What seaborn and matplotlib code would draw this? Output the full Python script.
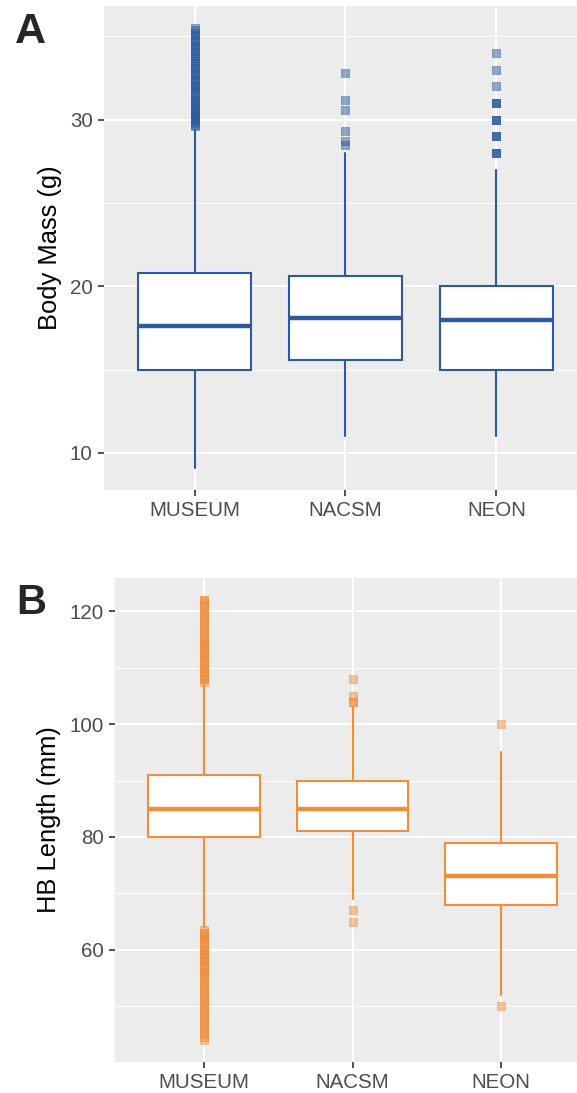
import matplotlib
matplotlib.use('Agg')
import matplotlib.pyplot as plt
from matplotlib.ticker import MultipleLocator
import seaborn as sns
import pandas as pd

# ================================================ DATA ===============================================================

SOURCES = ['MUSEUM', 'NACSM', 'NEON']

# Body mass (g): box summaries per source
MASS_WHISLO = [9.1, 11.0, 11.0]
MASS_Q1 = [15.0, 15.6, 15.0]
MASS_MED = [17.6, 18.1, 18.0]
MASS_Q3 = [20.8, 20.6, 20.0]
MASS_WHISHI = [29.4, 28.0, 27.0]

MASS_OUT_MUSEUM = [29.6, 29.7, 29.8, 29.9, 30.0, 30.1, 30.2, 30.3, 30.4, 30.5, 30.6, 30.7, 30.8, 31.0,
                   31.1, 31.2, 31.3, 31.5, 31.6, 31.8, 31.9, 32.0, 32.1, 32.3, 32.4, 32.5, 32.7, 32.8,
                   33.0, 33.1, 33.2, 33.4, 33.5, 33.7, 33.8, 34.0, 34.1, 34.3, 34.4, 34.5, 34.7, 34.8,
                   35.0, 35.1, 35.2, 35.4, 35.5]
MASS_OUT_NACSM = [32.8, 31.2, 30.6, 29.3, 28.7, 28.5]
MASS_OUT_NEON = [34, 33, 32, 31, 31, 31, 30, 30, 30, 29, 29, 29, 28, 28, 28]

# Head-body length (mm): box summaries per source
HB_WHISLO = [64.0, 69.0, 52.0]
HB_Q1 = [80.0, 81.0, 68.0]
HB_MED = [85.0, 85.0, 73.0]
HB_Q3 = [91.0, 90.0, 79.0]
HB_WHISHI = [107.2, 103.0, 95.0]

HB_OUT_MUSEUM = [107.5, 108, 108, 108.5, 109, 109.5, 110, 110, 110.5, 111, 111.5, 112, 112, 112.5,
                 113, 113.5, 114, 114, 114.5, 115, 115.5, 116, 116.5, 117, 117.5, 118, 118.5, 119,
                 119.5, 120, 120.5, 121, 121.5, 122, 122,
                 63.5, 63, 63, 62.5, 62, 62, 61.5, 61, 60.5, 60, 60, 59.5, 59, 58.5, 58, 58, 57.5,
                 57, 56.5, 56, 56, 55.5, 55, 54.5, 54, 53.5, 53, 52.5, 52, 51.5, 51, 50.5, 50, 49.5,
                 49, 48.5, 48, 47.5, 47, 46.5, 46, 45.5, 45, 44.5, 44]
HB_OUT_NACSM = [108, 105, 104, 104, 67, 65]
HB_OUT_NEON = [100, 50]

BLUE = '#2d5a9c'
ORANGE = '#ef8e3d'


# ================================================ HELPERS ============================================================

def box_stats(lo, q1, med, q3, hi):
    return [dict(whislo=a, q1=b, med=c, q3=d, whishi=e, fliers=[])
            for a, b, c, d, e in zip(lo, q1, med, q3, hi)]


def outlier_frame(groups):
    rows = []
    for src, vals in zip(SOURCES, groups):
        rows += [(src, v) for v in vals]
    return pd.DataFrame(rows, columns=['source', 'value'])


def draw_panel(ax, stats, outliers, color, ylabel, ylim, major, minor, xmax):
    ax.set_facecolor('#ececec')
    ax.bxp(stats, positions=[0, 1, 2], widths=0.75, patch_artist=True, showcaps=False,
           showfliers=False,
           boxprops=dict(facecolor='white', edgecolor=color, linewidth=1.5),
           medianprops=dict(color=color, linewidth=3.2),
           whiskerprops=dict(color=color, linewidth=1.5))
    sns.stripplot(data=outliers, x='source', y='value', order=SOURCES, jitter=False,
                  marker='s', size=6.2, color=color, alpha=0.5, linewidth=0.6,
                  edgecolor=color, ax=ax, zorder=3)
    ax.set_xlim(-0.6, xmax)
    ax.set_ylim(*ylim)
    ax.set_xticks([0, 1, 2])
    ax.set_xticklabels(SOURCES)
    ax.yaxis.set_major_locator(MultipleLocator(major))
    ax.yaxis.set_minor_locator(MultipleLocator(minor))
    ax.grid(which='major', color='white', linewidth=1.5)
    ax.grid(which='minor', axis='y', color='white', linewidth=0.8)
    ax.set_axisbelow(True)
    for s in ax.spines.values():
        s.set_visible(False)
    ax.tick_params(which='major', left=True, bottom=True, length=4.6, width=1.2, color='#333333',
                   labelcolor='#4d4d4d', labelsize=14.8, pad=3.5)
    ax.tick_params(which='minor', left=False, bottom=False)
    ax.set_xlabel('')
    ax.set_ylabel(ylabel, fontsize=18.4, color='black', labelpad=6)


# ================================================ FIGURE =============================================================

sns.set_theme(style='darkgrid')
plt.rcParams['font.family'] = ['Liberation Sans', 'DejaVu Sans']

W, H = 577, 1093
fig = plt.figure(figsize=(W / 100, H / 100), dpi=100)

ax_a = fig.add_axes([104 / W, 1 - 490 / H, 1 - 104 / W, (490 - 6) / H])
draw_panel(ax_a, box_stats(MASS_WHISLO, MASS_Q1, MASS_MED, MASS_Q3, MASS_WHISHI),
           outlier_frame([MASS_OUT_MUSEUM, MASS_OUT_NACSM, MASS_OUT_NEON]),
           BLUE, 'Body Mass (g)', (7.78, 36.82), 10, 5, 2.534)

ax_b = fig.add_axes([115 / W, 1 - 1062 / H, 1 - 115 / W, (1062 - 578) / H])
draw_panel(ax_b, box_stats(HB_WHISLO, HB_Q1, HB_MED, HB_Q3, HB_WHISHI),
           outlier_frame([HB_OUT_MUSEUM, HB_OUT_NACSM, HB_OUT_NEON]),
           ORANGE, 'HB Length (mm)', (40.1, 125.9), 20, 10, 2.512)

fig.text(15 / W, 1 - 43 / H, 'A', fontsize=31, fontweight='bold', va='baseline', ha='left')
fig.text(16 / W, 1 - 614 / H, 'B', fontsize=30, fontweight='bold', va='baseline', ha='left')

fig.savefig('out.png', dpi=100, facecolor='white')
